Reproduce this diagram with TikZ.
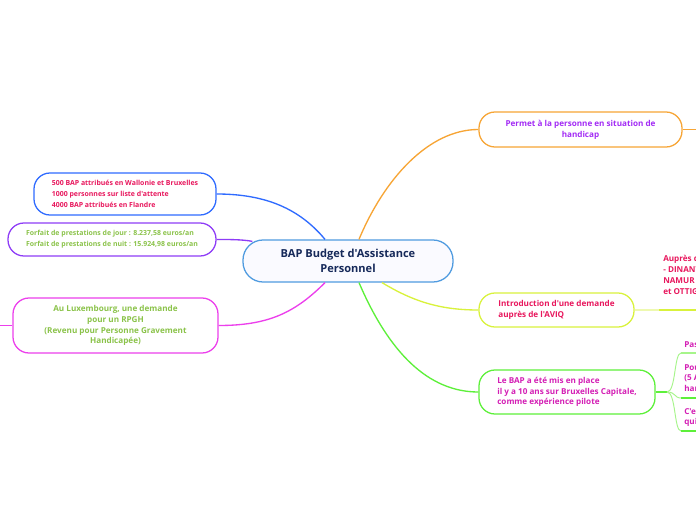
\documentclass[tikz,border=0pt]{standalone}
\usepackage{fontspec}
\setmainfont{Open Sans}[Ligatures=TeXOff]
\definecolor{navy}{HTML}{16295A}
\definecolor{centralC}{HTML}{4F9BE0}
\definecolor{blueC}{HTML}{2F6BFF}
\definecolor{purpleC}{HTML}{8E3CF7}
\definecolor{magentaC}{HTML}{EC3FEC}
\definecolor{orangeC}{HTML}{F7A535}
\definecolor{yellowC}{HTML}{D9F23C}
\definecolor{lightyellowC}{HTML}{EEF9B0}
\definecolor{greenC}{HTML}{5DF03A}
\definecolor{lightgreenC}{HTML}{A6F58A}
\definecolor{crimsonT}{HTML}{E8175D}
\definecolor{greenT}{HTML}{8BC34A}
\definecolor{purpleT}{HTML}{A32CF5}
\definecolor{magentaT}{HTML}{D41FB5}
\tikzset{
  topicbox/.style={draw, line width=0.95pt, rounded corners=12pt, fill=white, inner sep=0pt},
  smalltext/.style={font=\fontsize{5.2}{8.1}\selectfont\bfseries},
  midtext/.style={font=\fontsize{6.1}{8.1}\selectfont\bfseries},
  conn/.style={line width=1pt},
}
\begin{document}
\begin{tikzpicture}[x=0.75pt,y=-0.75pt]
\useasboundingbox (0,0) rectangle (696,520);
\clip (0,0) rectangle (696,520);
\fill[white] (0,0) rectangle (696,520);

% central
\node[topicbox, draw=centralC, fill=blue!2, rounded corners=15pt, minimum width=157.5pt, minimum height=31.5pt,
  align=center, text=navy, font=\fontsize{8.3}{11.25}\selectfont\bfseries] (center) at (348,261)
  {BAP Budget d'Assistance\\Personnel};

% left topics
\node[topicbox, draw=blueC, minimum width=136.5pt, minimum height=31.5pt, align=left, text=crimsonT, smalltext] (bap) at (125,194)
  {500 BAP attribués en Wallonie et Bruxelles\\1000 personnes sur liste d'attente\\4000 BAP attribués en Flandre};
\node[topicbox, draw=purpleC, minimum width=156pt, minimum height=24.75pt, align=left, text=greenT, smalltext] (forfait) at (112,239.5)
  {Forfait de prestations de jour : 8.237,58 euros/an\\Forfait de prestations de nuit : 15.924,98 euros/an};
\node[topicbox, draw=magentaC, minimum width=153.75pt, minimum height=41.25pt, align=center, text=greenT, midtext] (lux) at (115.5,325.5)
  {Au Luxembourg, une demande\\pour un RPGH\\(Revenu pour Personne Gravement\\Handicapée)};

% right topics
\node[topicbox, draw=orangeC, minimum width=152.25pt, minimum height=26.25pt, align=center, text=purpleT, midtext] (permet) at (580.5,129.5)
  {Permet à la personne en situation de\\handicap};
\node[topicbox, draw=yellowC, minimum width=116.25pt, minimum height=25.5pt, align=left, text=crimsonT, midtext] (intro) at (556.5,310)
  {Introduction d'une demande\\auprès de l'AVIQ};
\node[topicbox, draw=greenC, minimum width=132pt, minimum height=33pt, align=left, text=magentaT, midtext] (pilote) at (567,392)
  {Le BAP a été mis en place\\il y a 10 ans sur Bruxelles Capitale,\\comme expérience pilote};

% cut-off children
\node[anchor=west, inner sep=0pt, align=left, text=crimsonT, midtext] (aupres) at (663,275)
  {Auprès d\\- DINANT\\NAMUR\\et OTTIG};
\node[anchor=west, inner sep=0pt, align=left, text=magentaT, midtext] (pas) at (684,345) {Pas};
\node[anchor=west, inner sep=0pt, align=left, text=magentaT, midtext] (pour) at (684,378) {Pou\\(5 A\\han};
\node[anchor=west, inner sep=0pt, align=left, text=magentaT, midtext] (cest) at (684,417.5) {C'e\\qui};

% coordinates at picture edge
\coordinate (luxout) at (0,325.5);
\coordinate (permout) at (697,129.5);
\coordinate (aupA) at (659,310);
\coordinate (aupB) at (697,310);
\coordinate (fork) at (667,392);
\coordinate (pasA) at (681,353);
\coordinate (pasB) at (697,353);
\coordinate (pouA) at (681,398);
\coordinate (pouB) at (697,398);
\coordinate (ceA) at (681,431);
\coordinate (ceB) at (697,431);

% main connectors
\draw[conn, draw=orangeC] ([xshift=8.25pt]center.north) .. controls +(25,-60) and +(-50,0) .. (permet.west);
\draw[conn, draw=blueC] ([xshift=-17.25pt]center.north) .. controls +(-25,-30) and +(50,0) .. (bap.east);
\draw[conn, draw=purpleC] ([xshift=7.5pt,yshift=-1.5pt]center.north west) .. controls +(-10,-2) and +(10,0) .. (forfait.east);
\draw[conn, draw=magentaC] ([xshift=-17.25pt]center.south) .. controls +(-30,30) and +(50,0) .. (lux.east);
\draw[conn, draw=yellowC] ([xshift=25.5pt]center.south) .. controls +(30,18) and +(-40,0) .. (intro.west);
\draw[conn, draw=greenC] ([xshift=8.25pt]center.south) .. controls +(30,70) and +(-50,0) .. (pilote.west);

% secondary connectors
\draw[conn, draw=magentaC] (lux.west) -- (luxout);
\draw[conn, draw=orangeC] (permet.east) -- (permout);
\draw[conn, draw=lightyellowC] (intro.east) -- (aupA);
\draw[line width=1.8pt, draw=yellowC] (aupA) -- (aupB);
\draw[conn, draw=greenC] (pilote.east) -- (fork);
\draw[line width=0.7pt, draw=lightgreenC] (fork) .. controls +(9,0) and +(-7,0) .. (pasA);
\draw[line width=0.7pt, draw=lightgreenC] (fork) .. controls +(9,0) and +(-7,0) .. (pouA);
\draw[line width=0.7pt, draw=lightgreenC] (fork) .. controls +(9,0) and +(-7,0) .. (ceA);
\draw[line width=1pt, draw=lightgreenC] (pasA) -- (pasB);
\draw[line width=1.3pt, draw=greenC] (pouA) -- (pouB);
\draw[line width=1.3pt, draw=greenC] (ceA) -- (ceB);
\end{tikzpicture}
\end{document}
